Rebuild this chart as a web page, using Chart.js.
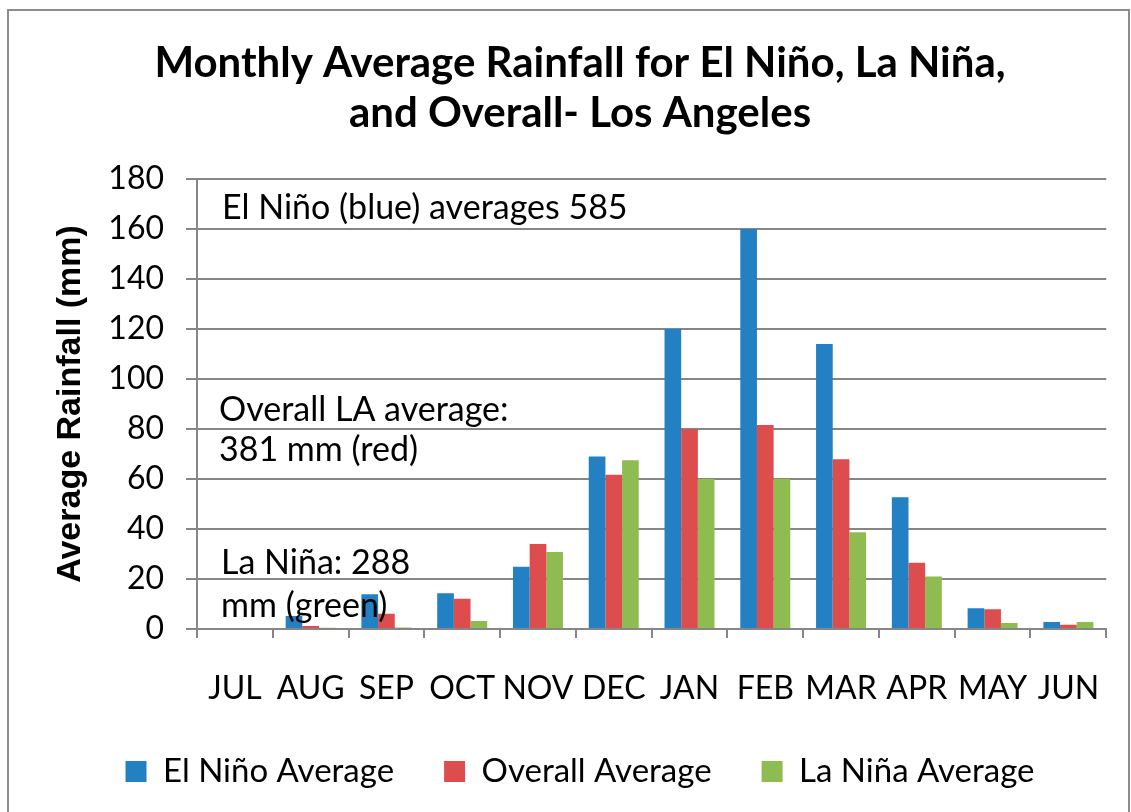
<!DOCTYPE html>
<html><head><meta charset="utf-8">
<script src="https://cdn.jsdelivr.net/npm/chart.js@4/dist/chart.umd.min.js"></script>
<style>html,body{margin:0;padding:0;background:#fff}#wrap{width:1131px;height:812px;position:relative}</style>
</head><body><div id="wrap"><canvas id="c" width="1131" height="812"></canvas></div>
<script>
const months = ["JUL","AUG","SEP","OCT","NOV","DEC","JAN","FEB","MAR","APR","MAY","JUN"];
const elNino = [0, 5.2, 13.9, 14.3, 24.9, 69, 120, 160, 114, 52.7, 8.3, 2.8];
const overall = [0, 1.2, 6.1, 12.1, 34, 61.7, 80, 81.6, 67.9, 26.5, 7.9, 1.7];
const laNina = [0, 0.5, 0.6, 3.2, 30.8, 67.5, 60, 60, 38.7, 21, 2.4, 2.8];
const seriesNames = ["El Niño Average", "Overall Average", "La Niña Average"];
const titleLines = ["Monthly Average Rainfall for El Niño, La Niña,", "and Overall- Los Angeles"];
const yTitle = "Average Rainfall (mm)";
const notes = [
  {text: "El Niño (blue) averages 585", dx: 25, v: 168.5},
  {text: "Overall LA average:", dx: 22, v: 87.5},
  {text: "381 mm (red)", dx: 22, v: 71.5},
  {text: "La Niña: 288", dx: 24, v: 26.5},
  {text: "mm (green)", dx: 24, v: 9}
];
const FONT = "Lato, 'Open Sans', sans-serif";
const colors = ["#2380C2", "#DD4D4D", "#8FBC50"];

const notesPlugin = {
  id: 'notes',
  beforeDraw(chart) {
    const ctx = chart.ctx;
    ctx.save();
    ctx.fillStyle = '#fff';
    ctx.fillRect(0, 0, chart.width, chart.height);
    ctx.strokeStyle = '#8c8c8c';
    ctx.lineWidth = 2;
    ctx.strokeRect(8, 10, chart.width - 10, chart.height + 10);
    ctx.restore();
  },
  afterDatasetsDraw(chart) {
    const ctx = chart.ctx, y = chart.scales.y, a = chart.chartArea;
    ctx.save();
    ctx.font = "34px " + FONT;
    ctx.fillStyle = '#000';
    ctx.textBaseline = 'middle';
    ctx.textAlign = 'left';
    notes.forEach(n => ctx.fillText(n.text, a.left + n.dx, y.getPixelForValue(n.v)));
    ctx.restore();
  }
};

new Chart(document.getElementById('c'), {
  type: 'bar',
  data: {
    labels: months,
    datasets: [
      {label: seriesNames[0], data: elNino, backgroundColor: colors[0]},
      {label: seriesNames[1], data: overall, backgroundColor: colors[1]},
      {label: seriesNames[2], data: laNina, backgroundColor: colors[2]}
    ]
  },
  options: {
    responsive: false,
    animation: false,
    devicePixelRatio: 1,
    layout: {padding: {top: 28, left: 50, right: 21, bottom: 14}},
    datasets: {bar: {categoryPercentage: 0.66, barPercentage: 1.0}},
    plugins: {
      title: {display: true, text: titleLines, color: '#000',
        font: {family: FONT, size: 42, weight: 'bold', lineHeight: 1.19},
        padding: {top: 10, bottom: 41}},
      legend: {position: 'bottom',
        labels: {color: '#000', font: {family: FONT, size: 33}, boxWidth: 21, boxHeight: 21, padding: 50}},
      tooltip: {enabled: false}
    },
    scales: {
      x: {
        afterFit(s) { s.height = 76; },
        grid: {display: true, offset: true, drawOnChartArea: false, tickLength: 9, color: '#868686', lineWidth: 2},
        border: {display: true, color: '#868686', width: 2},
        ticks: {color: '#000', font: {family: FONT, size: 32}, padding: 31, maxRotation: 0, autoSkip: false}
      },
      y: {
        min: 0, max: 180,
        afterFit(s) { s.width = 147; },
        grid: {color: '#868686', lineWidth: 2, tickLength: 11},
        border: {display: true, color: '#868686', width: 2},
        ticks: {stepSize: 20, color: '#000', font: {family: FONT, size: 32}, padding: 22},
        title: {display: true, text: yTitle, color: '#000', font: {family: "'Liberation Sans', Arial, sans-serif", size: 34, weight: 'bold'}, padding: 0}
      }
    }
  },
  plugins: [notesPlugin]
});
</script></body></html>
